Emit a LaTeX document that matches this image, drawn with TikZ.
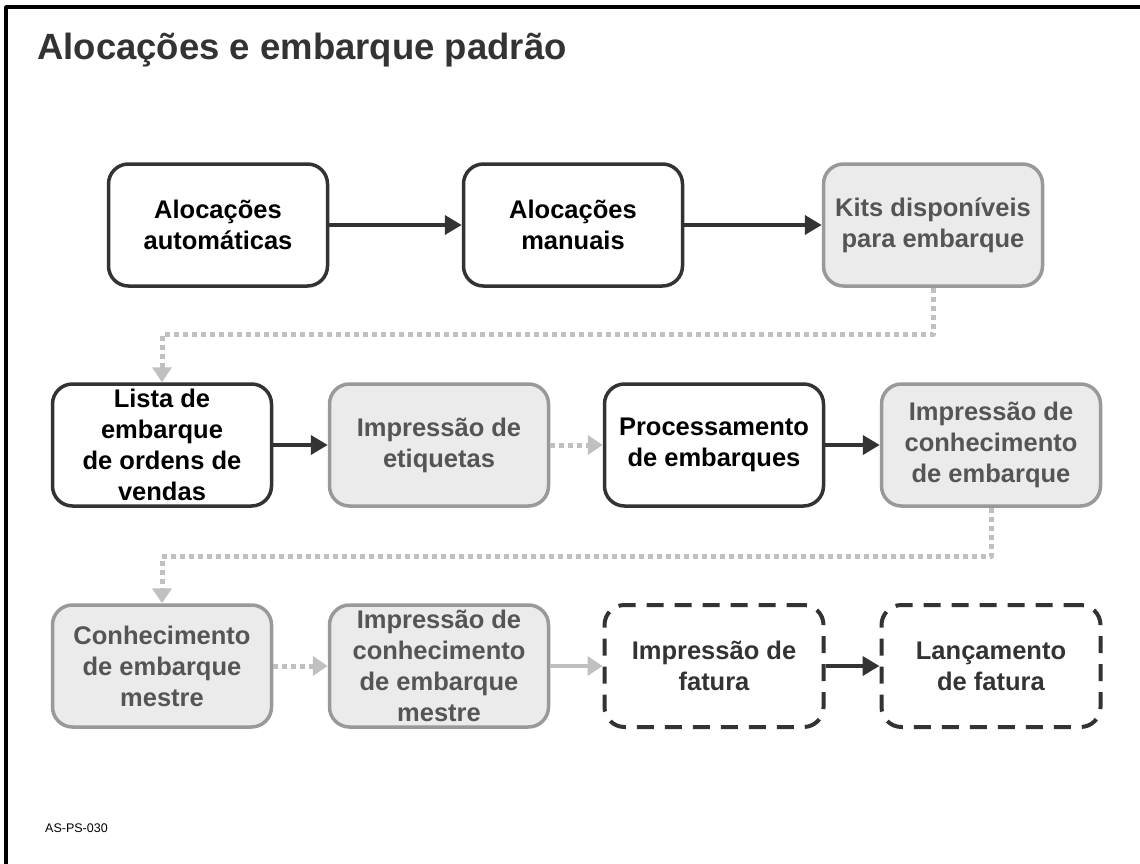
\documentclass[tikz,border=0pt]{standalone}
\usepackage{fontspec}
\setmainfont{Liberation Sans}
\usetikzlibrary{arrows.meta}
\definecolor{dark}{HTML}{333333}
\definecolor{greyline}{HTML}{999999}
\definecolor{greyfill}{HTML}{EBEBEB}
\definecolor{greytext}{HTML}{555555}
\definecolor{lightarrow}{HTML}{C0C0C0}
\begin{document}
\begin{tikzpicture}[x=1pt,y=-1pt,line join=round,
	box/.style={rectangle,rounded corners=20pt,minimum width=219pt,minimum height=122pt,inner sep=0pt,align=center,font=\fontsize{25.5}{31}\selectfont\bfseries},
	blackbox/.style={box,draw=dark,line width=3.5pt,fill=white,text=black},
	greybox/.style={box,draw=greyline,line width=3.5pt,fill=greyfill,text=greytext},
	dashbox/.style={box,draw=dark,line width=4pt,dash pattern=on 17pt off 11pt,fill=white,text=dark},
	darkarrow/.style={draw=dark,line width=4pt,-{Triangle[length=17pt,width=19pt]}},
	greyarrow/.style={draw=lightarrow,line width=4pt,-{Triangle[length=15pt,width=19pt]}},
	dotarrow/.style={draw=lightarrow,line width=5pt,dash pattern=on 5pt off 4pt,-{Triangle[length=15pt,width=19pt]}}]
				\useasboundingbox (0,0) rectangle (1140,864);
				\fill[white] (0,0) rectangle (1140,864);
				\draw[black, line width=3.5pt] (6,864) -- (6,7) -- (1140,7);
				
				\node[anchor=base west, inner sep=0pt, text=dark, font=\fontsize{36.5}{42}\selectfont\bfseries] (titulo) at (37,60) {Alocações e embarque padrão};
				\node[anchor=base west, inner sep=0pt, font=\fontsize{12.5}{15}\selectfont] (codigo) at (45,832) {AS-PS-030};
				
				\node[blackbox] (alocauto) at (218,225) {Alocações\\automáticas};
				\node[blackbox] (alocman) at (573,225) {Alocações\\manuais};
				\node[greybox] (kits) at (933,225) {Kits disponíveis\\para embarque};
				
				\node[blackbox] (lista) at (162,445) {Lista de\\embarque\\de ordens de\\vendas};
				\node[greybox] (etiq) at (439,445) {Impressão de\\etiquetas};
				\node[blackbox] (proc) at (714,445) {Processamento\\de embarques};
				\node[greybox] (conhec) at (991,445) {Impressão de\\conhecimento\\de embarque};
				
				\node[greybox] (mestre) at (162,666) {Conhecimento\\de embarque\\mestre};
				\node[greybox] (impmestre) at (439,666) {Impressão de\\conhecimento\\de embarque\\mestre};
				\node[dashbox] (impfat) at (714,666) {Impressão de\\fatura};
				\node[dashbox] (lancfat) at (991,666) {Lançamento\\de fatura};
				
				\draw[darkarrow] (alocauto.east) -- (alocman.west);
				\draw[darkarrow] (alocman.east) -- (kits.west);
				\draw[dotarrow] (kits.south) -- ++(0,47) -| (lista.north);
				
				\draw[darkarrow] (lista.east) -- (etiq.west);
				\draw[dotarrow] (etiq.east) -- (proc.west);
				\draw[darkarrow] (proc.east) -- (conhec.west);
				\draw[dotarrow] (conhec.south) -- ++(0,49) -| (mestre.north);
				
				\draw[dotarrow] (mestre.east) -- (impmestre.west);
				\draw[greyarrow] (impmestre.east) -- (impfat.west);
				\draw[darkarrow] (impfat.east) -- (lancfat.west);
\end{tikzpicture}
\end{document}
